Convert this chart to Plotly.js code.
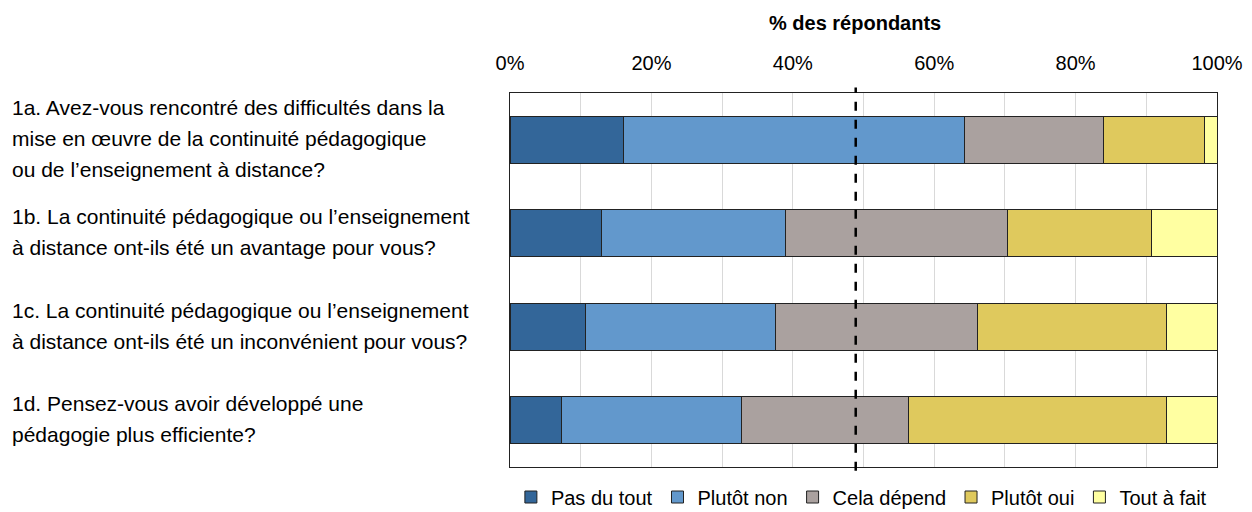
<!DOCTYPE html>
<html>
<head>
<meta charset="utf-8">
<script src="https://cdn.plot.ly/plotly-3.0.1.min.js"></script>
<style>html,body{margin:0;padding:0;background:#fff;}#chart{width:1252px;height:512px;}</style>
</head>
<body>
<div id="chart"></div>
<script>
const categories = ["1a", "1b", "1c", "1d"];
const questionLabels = [
  "1a. Avez-vous rencontré des difficultés dans la<br>mise en œuvre de la continuité pédagogique<br>ou de l’enseignement à distance?",
  "1b. La continuité pédagogique ou l’enseignement<br>à distance ont-ils été un avantage pour vous?",
  "1c. La continuité pédagogique ou l’enseignement<br>à distance ont-ils été un inconvénient pour vous?",
  "1d. Pensez-vous avoir développé une<br>pédagogie plus efficiente?"
];
const seriesNames = ["Pas du tout", "Plutôt non", "Cela dépend", "Plutôt oui", "Tout à fait"];
const pasDuTout  = [16.1, 13.0, 10.7, 7.3];
const plutotNon  = [48.2, 25.9, 26.8, 25.5];
const celaDepend = [19.6, 31.5, 28.6, 23.6];
const plutotOui  = [14.3, 20.4, 26.8, 36.4];
const toutAFait  = [1.8, 9.2, 7.1, 7.2];
const referenceLine = 48.9;
const tickValues = [0, 20, 40, 60, 80, 100];
const tickLabels = ["0%", "20%", "40%", "60%", "80%", "100%"];

const colors = ["#336699", "#6298cc", "#aaa19f", "#dfc95d", "#ffffa1"];
const seriesValues = [pasDuTout, plutotNon, celaDepend, plutotOui, toutAFait];
const FONT = "'Liberation Sans Narrow', 'Arial Narrow', 'Liberation Sans', Arial, sans-serif";

const traces = seriesValues.map((vals, i) => ({
  type: "bar",
  orientation: "h",
  name: seriesNames[i],
  y: categories,
  x: vals,
  width: 0.5,
  marker: {color: colors[i], line: {color: "#222", width: 1}},
  hoverinfo: "x+name"
}));

const LINE_SPACING = 31;
const annotations = [];
categories.forEach((c, i) => {
  const lines = questionLabels[i].split("<br>");
  const n = lines.length;
  lines.forEach((ln, j) => {
    annotations.push({
      xref: "paper", yref: "y",
      x: -0.707, y: c,
      xanchor: "left", yanchor: "middle",
      align: "left",
      yshift: -((j - (n - 1) / 2) * LINE_SPACING) + 1,
      text: ln,
      showarrow: false,
      font: {family: FONT, size: 21, color: "#000"}
    });
  });
});

const layout = {
  width: 1252, height: 512,
  margin: {l: 510, r: 35, t: 93, b: 45, autoexpand: false},
  paper_bgcolor: "#fff", plot_bgcolor: "#fff",
  barmode: "stack",
  showlegend: true,
  title: {
    text: "<b>% des répondants</b>",
    x: 0.683, xref: "container", xanchor: "center",
    y: 1 - 23/512, yref: "container", yanchor: "middle",
    font: {family: FONT, size: 20, color: "#000"}
  },
  xaxis: {
    side: "top",
    range: [0, 100],
    tickvals: tickValues,
    ticktext: tickLabels,
    ticks: "",
    ticklabelstandoff: 14,
    tickfont: {family: FONT, size: 20, color: "#000"},
    showgrid: true, gridcolor: "#d9d9d9", gridwidth: 1,
    minor: {dtick: 10, showgrid: true, gridcolor: "#d9d9d9", gridwidth: 1, ticks: ""},
    showline: true, linecolor: "#222", linewidth: 1, mirror: true,
    zeroline: false, fixedrange: true
  },
  yaxis: {
    type: "category",
    categoryorder: "array",
    categoryarray: categories,
    autorange: "reversed",
    showticklabels: false,
    ticks: "",
    showgrid: false,
    showline: true, linecolor: "#222", linewidth: 1, mirror: true,
    zeroline: false, fixedrange: true
  },
  legend: {
    orientation: "h",
    xref: "container", yref: "container",
    x: 0.688, xanchor: "center",
    y: 1 - 497/512, yanchor: "middle",
    font: {family: FONT, size: 20, color: "#000"},
    itemwidth: 30,
    tracegroupgap: 0,
    traceorder: "normal"
  },
  shapes: [{
    type: "line", xref: "x", yref: "paper",
    x0: referenceLine, x1: referenceLine, y0: -0.01, y1: 1.015,
    line: {color: "#000", width: 2.5, dash: "dash"}
  }],
  annotations: annotations
};

Plotly.newPlot("chart", traces, layout, {displayModeBar: false, staticPlot: true});
</script>
</body>
</html>
